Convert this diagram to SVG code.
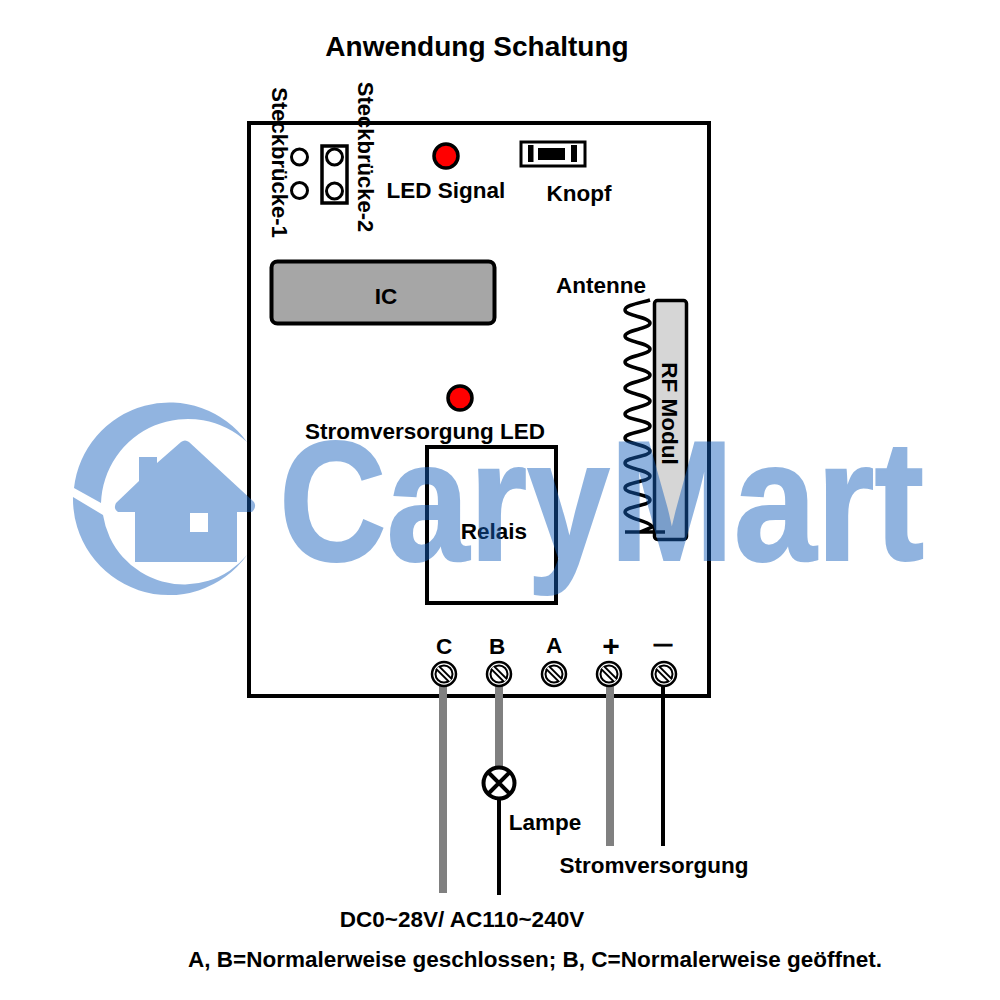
<svg xmlns="http://www.w3.org/2000/svg" width="1000" height="1000" viewBox="0 0 1000 1000">
<style>
text{font-family:"Liberation Sans",Arial,sans-serif;font-weight:700;fill:#000;font-size:22.500px}
.m{text-anchor:middle}
.box{fill:none;stroke:#000;stroke-width:4}
.ring{fill:none;stroke:#000;stroke-width:3}
.led{fill:#f00;stroke:#000;stroke-width:3.500}
.thick{stroke:#808080;stroke-width:8;fill:none}
.thin{stroke:#000;stroke-width:4;fill:none}
.wm{fill:#1560bd;opacity:.47}
</style>
<defs>
<g id="screw"><circle r="12" fill="#fff" stroke="#000" stroke-width="2.500"/><circle r="8.500" fill="#fff" stroke="#000" stroke-width="2"/><path d="M-6.500-6.500L6.500 6.500" stroke="#000" stroke-width="6"/><path d="M-6.500-6.500L6.500 6.500" stroke="#fff" stroke-width="2"/></g>
</defs>
<text class="m" x="477" y="56" style="font-size:28px">Anwendung Schaltung</text>
<g id="board"><rect class="box" x="249" y="123" width="460" height="573"/></g>
<g id="connectors">
<path class="thick" d="M443 686V893M499 686V766M610 686V846"/>
<path class="thin" d="M499 800V895M663 686V846"/>
</g>
<g id="jumper1">
<circle class="ring" cx="299.500" cy="157" r="8"/><circle class="ring" cx="299.500" cy="190.500" r="8"/>
<text class="m" transform="translate(272 162.500) rotate(90)" style="font-size:22px">Steckbrücke-1</text>
</g>
<g id="jumper2">
<rect x="322" y="146" width="25" height="57" fill="none" stroke="#000" stroke-width="3.500"/>
<circle class="ring" cx="334.500" cy="157" r="8"/><circle class="ring" cx="334.500" cy="191" r="8"/>
<text class="m" transform="translate(358 157) rotate(90)" style="font-size:22px">Steckbrücke-2</text>
</g>
<g id="led-signal"><circle class="led" cx="446" cy="156" r="12"/><text class="m" x="446" y="198">LED Signal</text></g>
<g id="knopf">
<rect x="521" y="142" width="64" height="24" fill="none" stroke="#000" stroke-width="3"/>
<path d="M528 145h5.500v17H528zM538 148h27v12h-27zM571 145h6v17h-6z" fill="#000"/>
<text class="m" x="579" y="201">Knopf</text>
</g>
<g id="ic"><rect x="271.500" y="261.500" width="223" height="62" rx="6" fill="#a6a6a6" stroke="#000" stroke-width="4"/><text class="m" x="386" y="304">IC</text></g>
<g id="rf">
<rect x="654.500" y="300.500" width="32" height="239" rx="3" fill="#d6d6d6" stroke="#000" stroke-width="3.500"/>
<text class="m" transform="translate(662 413.500) rotate(90)">RF Modul</text>
</g>
<g id="antenne">
<path fill="none" stroke="#000" stroke-width="3.500" d="M650 300C640 303 625 305 625 310C625 316 650 317 650 323C650 329 625 330 625 336C625 342 650 343 650 349C650 355 625 356 625 362C625 368 650 369 650 375C650 381 625 382 625 388C625 394 650 395 650 401C650 407 625 408 625 414C625 420 650 420 650 426C650 432 625 432 625 438C625 444 650 445 650 451C650 457 625 457 625 463C625 469 650 470 650 476C650 482 625 482 625 488C625 494 650 494 650 500C650 506 625 506 625 512C625 518 652 522 652 527L640 532H625H665"/>
<text class="m" x="601" y="293">Antenne</text>
</g>
<g id="power-led"><circle class="led" cx="460" cy="398" r="12"/><text class="m" x="425" y="439">Stromversorgung LED</text></g>
<g id="relais"><rect class="box" x="427" y="447" width="129" height="156"/><text class="m" x="494" y="539">Relais</text></g>
<g id="terminal-c"><use href="#screw" x="444" y="674"/><text class="m" x="444" y="654">C</text></g>
<g id="terminal-b"><use href="#screw" x="499" y="674"/><text class="m" x="497" y="654">B</text></g>
<g id="terminal-a"><use href="#screw" x="554" y="674"/><text class="m" x="554" y="653">A</text></g>
<g id="terminal-plus"><use href="#screw" x="609" y="674"/><text class="m" x="611" y="656" style="font-size:30px">+</text></g>
<g id="terminal-minus"><use href="#screw" x="664" y="674"/><text class="m" x="663" y="650" style="font-size:18px;stroke:#000;stroke-width:1">—</text></g>
<g id="lampe">
<circle cx="499" cy="783" r="15.500" fill="#fff" stroke="#000" stroke-width="4"/>
<path d="M488 772L510 794M510 772L488 794" stroke="#000" stroke-width="4"/>
<text class="m" x="545" y="830">Lampe</text>
</g>
<text class="m" x="654" y="873">Stromversorgung</text>
<text class="m" x="462" y="927">DC0~28V/ AC110~240V</text>
<text class="m" x="535" y="967">A, B=Normalerweise geschlossen; B, C=Normalerweise geöffnet.</text>
<g id="watermark">
<path class="wm" d="M247 442A96 96 0 0 0 74 488L101 503A87 87 0 0 1 247 442Z"/>
<path class="wm" d="M73 497A96 96 0 0 0 247 555A82 82 0 0 1 103 515Z"/>
<path class="wm" fill-rule="evenodd" d="M139 457H157V463L181 442Q185 439 189 442L254 502Q257 507 252 512H237V562H135V512H118Q113 509 116 503L139 481ZM190 513V532H208V513Z"/>
<text class="wm" x="279" y="560" textLength="645" lengthAdjust="spacingAndGlyphs" style="font-size:171px;fill:#1560bd;stroke:#1560bd;stroke-width:2">CaryMart</text>
</g>
</svg>
